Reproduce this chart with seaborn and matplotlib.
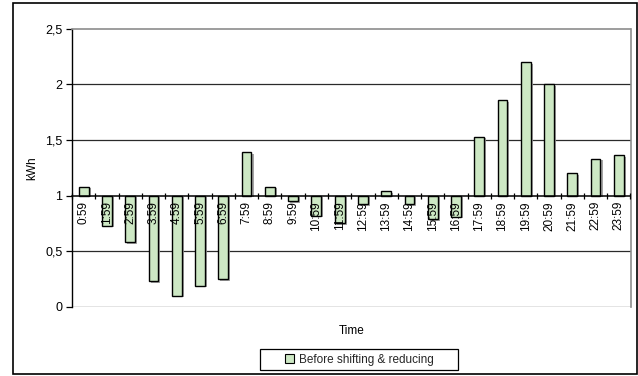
import numpy as np
import pandas as pd
import matplotlib
matplotlib.use("Agg")
import matplotlib.pyplot as plt
import matplotlib.patheffects as pe
from matplotlib.patches import Rectangle
from matplotlib.ticker import FixedLocator
import seaborn as sns

# Hourly consumption profile (kWh), hour ending at HH:59
hours = [f"{h}:59" for h in range(24)]
consumption = [1.08, 0.73, 0.58, 0.23, 0.10, 0.19, 0.25, 1.39,
               1.08, 0.95, 0.82, 0.75, 0.92, 1.04, 0.92, 0.79,
               0.81, 1.53, 1.86, 2.20, 2.00, 1.20, 1.33, 1.36]
series_name = "Before shifting & reducing"
y_ticks = [0, 0.5, 1, 1.5, 2, 2.5]
y_tick_labels = ["0", "0,5", "1", "1,5", "2", "2,5"]
baseline = 1.0

sns.set_theme(style="white")
plt.rcParams["font.family"] = ["Liberation Sans", "DejaVu Sans"]

df = pd.DataFrame({"Time": hours, "kWh": consumption})
# bars grow from the category axis, which crosses the value axis at 1
df["offset"] = df["kWh"] - baseline

fig = plt.figure(figsize=(6.38, 3.76), dpi=100)
ax = fig.add_axes([72 / 638, 1 - 306.7 / 376, 558.5 / 638, 278 / 376])

fill = "#CDE8C4"
sns.barplot(data=df, x="Time", y="offset", order=hours, color=fill,
            saturation=1, width=0.42, bottom=baseline, edgecolor="black",
            linewidth=1.0, ax=ax, zorder=2)
for bar in ax.patches:
    bar.set_path_effects([pe.SimplePatchShadow(offset=(1.5, -1.2),
                                               shadow_rgbFace="#9a9a9a",
                                               alpha=0.9),
                          pe.Normal()])

ax.set_ylim(0, 2.5)
ax.set_xlim(-0.5, len(hours) - 0.5)

# horizontal gridlines
for yv in [0, 0.5, 1.5, 2]:
    ax.axhline(yv, color="#2a2a2a", lw=0.9, zorder=1)

# category axis at y = 1, drawn over the bars
ax.spines["bottom"].set_position(("data", baseline))
ax.spines["bottom"].set_color("black")
ax.spines["bottom"].set_linewidth(1.1)
ax.spines["bottom"].set_zorder(4)
ax.xaxis.set_zorder(5)
ax.spines["left"].set_color("black")
ax.spines["left"].set_linewidth(1.0)
for side in ["top", "right"]:
    ax.spines[side].set_color("#8c8c8c")
    ax.spines[side].set_linewidth(1.2)

ax.set_yticks(y_ticks)
ax.set_yticklabels(y_tick_labels)
ax.tick_params(axis="y", which="major", left=True, length=4, width=0.9,
               color="black", labelsize=9, pad=3, labelcolor="black")

ax.set_xticks(range(len(hours)))
ax.set_xticklabels(hours, rotation=90, fontsize=8.5, color="black")
ax.tick_params(axis="x", which="major", bottom=False, length=0, pad=4)
ax.xaxis.set_minor_locator(FixedLocator(np.arange(-0.5, len(hours), 1)))
ax.tick_params(axis="x", which="minor", bottom=True, length=5,
               direction="inout", width=0.9, color="black")

ax.set_xlabel("Time", fontsize=8.5, color="black")
ax.xaxis.set_label_coords(0.5, -0.065)
ax.set_ylabel("kWh", fontsize=8.5, color="black")
ax.yaxis.set_label_coords(-0.06, 0.5)

# legend at the bottom of the chart area, inside a wide box
handle = Rectangle((0, 0), 1, 1, facecolor=fill, edgecolor="black", lw=0.8)
fig.legend([handle], [series_name], loc="center",
           bbox_to_anchor=(359 / 638, 1 - 359.5 / 376),
           frameon=False, fontsize=8.5,
           handlelength=0.8, handleheight=0.8, handletextpad=0.4,
           borderpad=0.4, borderaxespad=0)
fig.patches.append(Rectangle((260 / 638, 1 - 370 / 376), 198 / 638, 21 / 376,
                             transform=fig.transFigure, fill=False,
                             edgecolor="black", lw=0.9))

# outer chart border
fig.patches.append(Rectangle((12.5 / 638, 2.5 / 376), 624 / 638, 371 / 376,
                             transform=fig.transFigure, fill=False,
                             edgecolor="black", lw=1.2))

fig.savefig("out.png", dpi=100)
